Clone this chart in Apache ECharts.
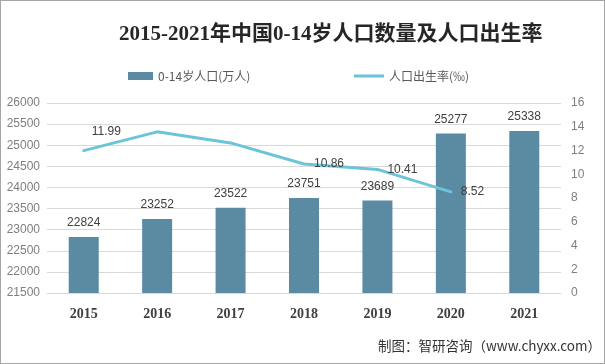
<!DOCTYPE html>
<html><head><meta charset="utf-8">
<script src="https://cdn.jsdelivr.net/npm/echarts@6/dist/echarts.min.js"></script>
<style>html,body{margin:0;padding:0;background:#fff}#c{width:603px;height:362px;border:1px solid #a6a6a6}</style>
</head><body><div id="c"></div>
<script>
var years = ['2015','2016','2017','2018','2019','2020','2021'];
var population = [22824, 23252, 23522, 23751, 23689, 25277, 25338];
var birthRate = [11.99, 13.57, 12.64, 10.86, 10.41, 8.52, null];
var showRateLabel = [true, false, false, true, true, true, false];
var leftTicks = {min: 21500, max: 26000, interval: 500};
var rightTicks = {min: 0, max: 16, interval: 2};

var chart = echarts.init(document.getElementById('c'));
var rateData = birthRate.map(function(v, i){
  var o = {value: v};
  if (showRateLabel[i]) {
    o.label = {show: true, position: i === 0 ? [8, -25] : 'right', distance: 10};
  }
  return o;
});
chart.setOption({
  animation: false,
  title: {text: '2015-2021年中国0-14岁人口数量及人口出生率', left: 113, top: 18,
    textStyle: {fontFamily: 'Liberation Serif, Noto Sans CJK SC', fontSize: 21, fontWeight: 'bold', color: '#262626'}},
  legend: [
    {data: ['0-14岁人口(万人)'], left: 122, top: 64, itemWidth: 25, itemHeight: 8, icon: 'rect',
     textStyle: {fontSize: 12, color: '#595959', fontFamily: 'Noto Sans CJK SC'}},
    {data: ['人口出生率(‰)'], left: 348, top: 64, itemWidth: 30, itemHeight: 3, icon: 'rect',
     textStyle: {fontSize: 12, color: '#595959', fontFamily: 'Noto Sans CJK SC'}}
  ],
  grid: {left: 46, right: 43, top: 102, bottom: 70},
  xAxis: {type: 'category', data: years,
    axisLine: {show: true, lineStyle: {color: '#d9d9d9'}}, axisTick: {show: false},
    axisLabel: {fontFamily: 'Liberation Serif', fontWeight: 'bold', fontSize: 14, color: '#404040', margin: 14}},
  yAxis: [
    {type: 'value', min: leftTicks.min, max: leftTicks.max, interval: leftTicks.interval,
     axisLabel: {color: '#7f7f7f', fontSize: 12, margin: 7, formatter: function(v){ return String(v); }},
     axisLine: {show: false}, axisTick: {show: false},
     splitLine: {lineStyle: {color: '#d9d9d9'}}},
    {type: 'value', min: rightTicks.min, max: rightTicks.max, interval: rightTicks.interval,
     axisLabel: {color: '#7f7f7f', fontSize: 12, margin: 10}, axisLine: {show: false}, axisTick: {show: false},
     splitLine: {show: false}}
  ],
  series: [
    {name: '0-14岁人口(万人)', type: 'bar', data: population, barWidth: 30, yAxisIndex: 0,
     itemStyle: {color: '#5a8ba3'},
     label: {show: true, position: 'top', color: '#404040', fontSize: 12, distance: 8}},
    {name: '人口出生率(‰)', type: 'line', data: rateData, yAxisIndex: 1,
     symbol: 'circle', symbolSize: 0, showSymbol: true,
     lineStyle: {color: '#6cc4d8', width: 3, cap: 'round'}, itemStyle: {color: '#6cc4d8'},
     label: {show: false, color: '#404040', fontSize: 12}}
  ],
  graphic: [{type: 'text', right: 3, top: 338,
    style: {text: '制图：智研咨询（www.chyxx.com）', fontSize: 13.5, fill: '#333', fontFamily: 'Noto Sans CJK SC'}}]
});
</script></body></html>
